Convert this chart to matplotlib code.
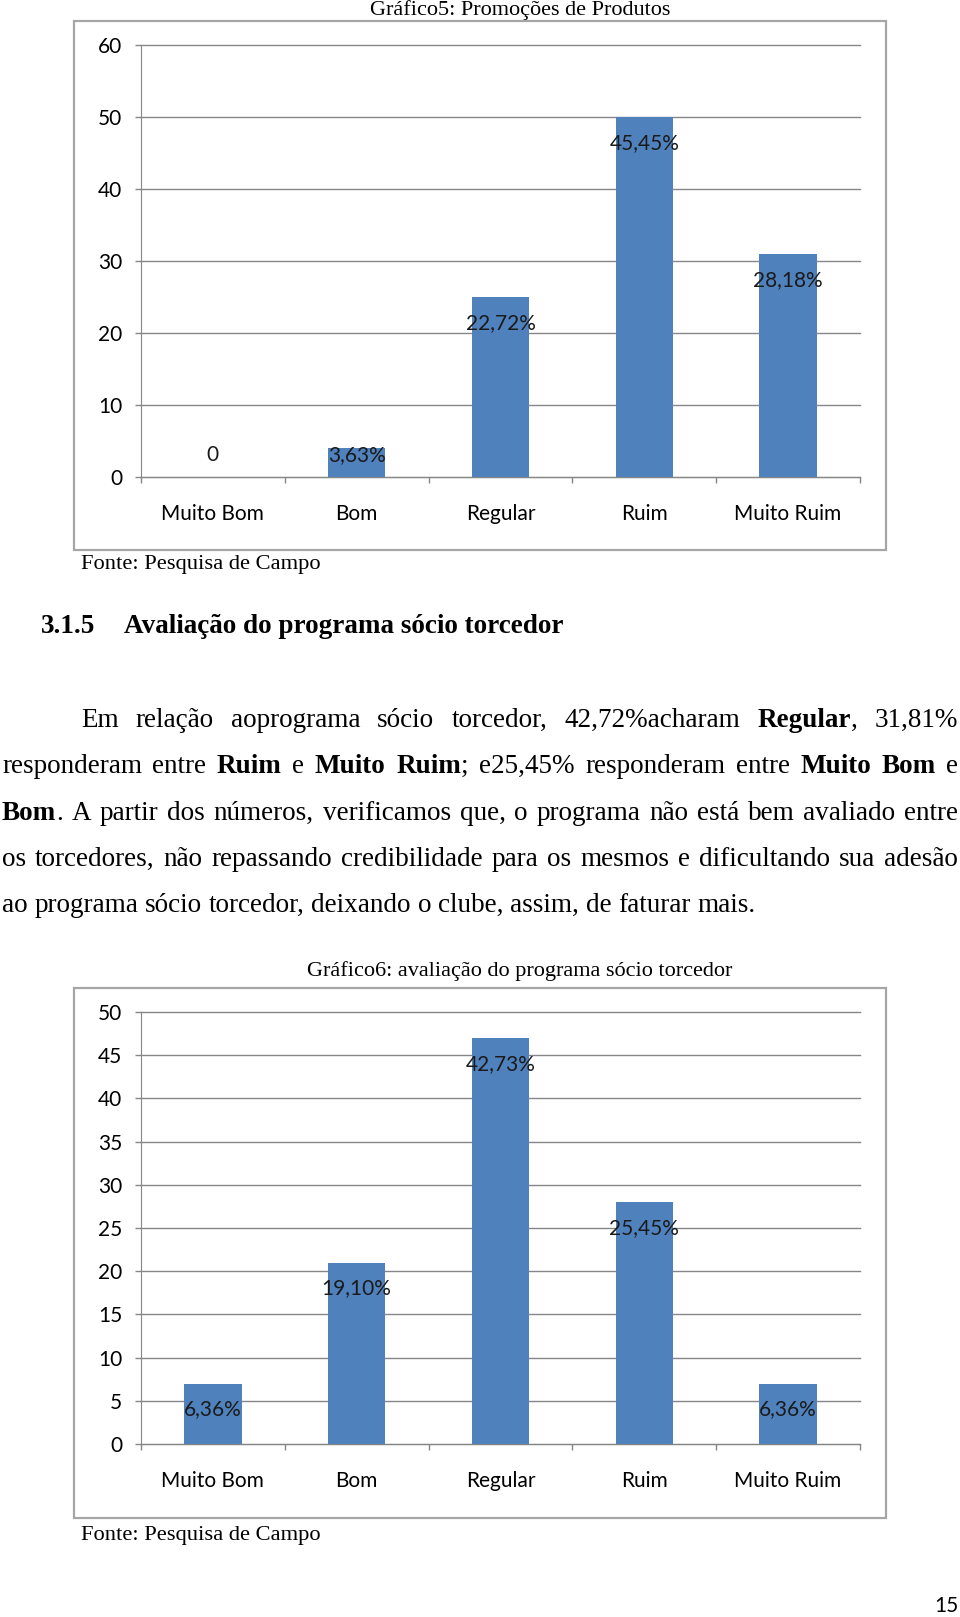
import matplotlib
matplotlib.use('Agg')
import matplotlib.pyplot as plt
import numpy as np
from matplotlib.patches import Rectangle

# data
categories = ['Muito Bom', 'Bom', 'Regular', 'Ruim', 'Muito Ruim']
promo_counts = [0, 4, 25, 50, 31]
promo_labels = ['0', '3,63%', '22,72%', '45,45%', '28,18%']
promo_yticks = [0, 10, 20, 30, 40, 50, 60]
socio_counts = [7, 21, 47, 28, 7]
socio_labels = ['6,36%', '19,10%', '42,73%', '25,45%', '6,36%']
socio_yticks = [0, 5, 10, 15, 20, 25, 30, 35, 40, 45, 50]

title1 = 'Gráfico5: Promoções de Produtos'
title2 = 'Gráfico6: avaliação do programa sócio torcedor'
source = 'Fonte: Pesquisa de Campo'
paragraph = [
    'Em relação aoprograma sócio torcedor, 42,72%acharam **Regular**, 31,81%',
    'responderam entre **Ruim** e **Muito Ruim**; e25,45% responderam entre **Muito Bom** e',
    '**Bom**. A partir dos números, verificamos que, o programa não está bem avaliado entre',
    'os torcedores, não repassando credibilidade para os mesmos e dificultando sua adesão',
    'ao programa sócio torcedor, deixando o clube, assim, de faturar mais.',
]

W, H = 960, 1617
BLUE = '#4F81BD'
GRID = '#868686'
SERIF = 'Liberation Serif'
SANS = 'Lato'
LAB = 15

fig = plt.figure(figsize=(W / 100, H / 100), dpi=100)
renderer = fig.canvas.get_renderer()


def px_rect(x0, y0, x1, y1):
    return [x0 / W, 1 - y1 / H, (x1 - x0) / W, (y1 - y0) / H]


def ftext(x, y, s, **kw):
    return fig.text(x / W, 1 - y / H, s, **kw)


def bar_chart(box, rect, counts, labels, yticks, title, title_y, src_y):
    fig.patches.append(Rectangle((box[0] / W, 1 - box[3] / H), (box[2] - box[0]) / W,
                                 (box[3] - box[1]) / H, transform=fig.transFigure,
                                 fill=False, edgecolor='#a6a6a6', lw=1.6))
    ax = fig.add_axes(px_rect(*rect))
    x = np.arange(len(categories))
    ax.bar(x, counts, width=0.4, color=BLUE, zorder=3)
    ax.set_xlim(-0.5, len(categories) - 0.5)
    ax.set_ylim(yticks[0], yticks[-1])
    ax.set_yticks(yticks)
    ax.set_xticks(x)
    ax.set_xticklabels(categories)
    ax.set_xticks(np.arange(-0.5, len(categories)), minor=True)
    ax.tick_params(axis='x', which='major', length=0, pad=19.5, labelsize=LAB)
    ax.tick_params(axis='x', which='minor', length=4, width=1, color=GRID)
    ax.tick_params(axis='y', length=4, width=1, color=GRID, pad=9.5, labelsize=LAB)
    for lab in ax.get_xticklabels() + ax.get_yticklabels():
        lab.set_fontfamily(SANS)
    ax.grid(axis='y', color=GRID, lw=1, zorder=0)
    for gl in ax.get_ygridlines():
        gl.set_clip_on(False)
    for s in ['top', 'right']:
        ax.spines[s].set_visible(False)
    for s in ['left', 'bottom']:
        ax.spines[s].set_color(GRID)
    ppu = (rect[3] - rect[1]) / (yticks[-1] - yticks[0])
    for i, (v, lab) in enumerate(zip(counts, labels)):
        off = max(-26, 22 - v * ppu)
        ax.annotate(lab, (i, v), xytext=(0, off), textcoords='offset pixels',
                    ha='center', va='center', fontsize=LAB, family=SANS,
                    color='#1a1a1a', zorder=4)
    ftext(520, title_y, title, ha='center', va='center', fontsize=16, family=SERIF)
    ftext(81, src_y, source, ha='left', va='center', fontsize=16.2, family=SERIF)


bar_chart((74, 21, 886, 550), (141, 45, 860, 477), promo_counts, promo_labels,
          promo_yticks, title1, 10, 564)
bar_chart((74, 988, 886, 1518), (141, 1012, 860, 1444), socio_counts, socio_labels,
          socio_yticks, title2, 971, 1535)

# section heading
BODY = 19.5
ftext(41, 633, '3.1.5', ha='left', va='baseline', fontsize=BODY, family=SERIF, weight='bold')
ftext(124, 633, 'Avaliação do programa sócio torcedor', ha='left', va='baseline',
      fontsize=BODY, family=SERIF, weight='bold')


def parse(line):
    words = [[]]
    for k, seg in enumerate(line.split('**')):
        bold = k % 2 == 1
        for j, c in enumerate(seg.split(' ')):
            if j > 0:
                words.append([])
            if c:
                words[-1].append((c, bold))
    return [w for w in words if w]


def width(s, bold):
    t = fig.text(0, 0, s, fontsize=BODY, family=SERIF, weight='bold' if bold else 'normal')
    w = t.get_window_extent(renderer).width
    t.remove()
    return w


space_w = width('a a', False) - width('aa', False)

# justified paragraph, line by line as on the page
line_y = [727, 773, 820, 866, 912]
for n, (line, y) in enumerate(zip(paragraph, line_y)):
    words = parse(line)
    x0 = 81 if n == 0 else 2
    x1 = 958
    widths = [[width(s, b) for s, b in w] for w in words]
    total = sum(sum(ws) for ws in widths)
    last = n == len(paragraph) - 1
    gap = space_w if last else (x1 - x0 - total) / (len(words) - 1)
    x = x0
    for w, ws in zip(words, widths):
        for (s, b), wd in zip(w, ws):
            ftext(x, y, s, ha='left', va='baseline', fontsize=BODY, family=SERIF,
                  weight='bold' if b else 'normal')
            x += wd
        x += gap

ftext(946, 1606, '15', ha='center', va='center', fontsize=LAB, family=SANS)

fig.savefig('out.png', dpi=100)
